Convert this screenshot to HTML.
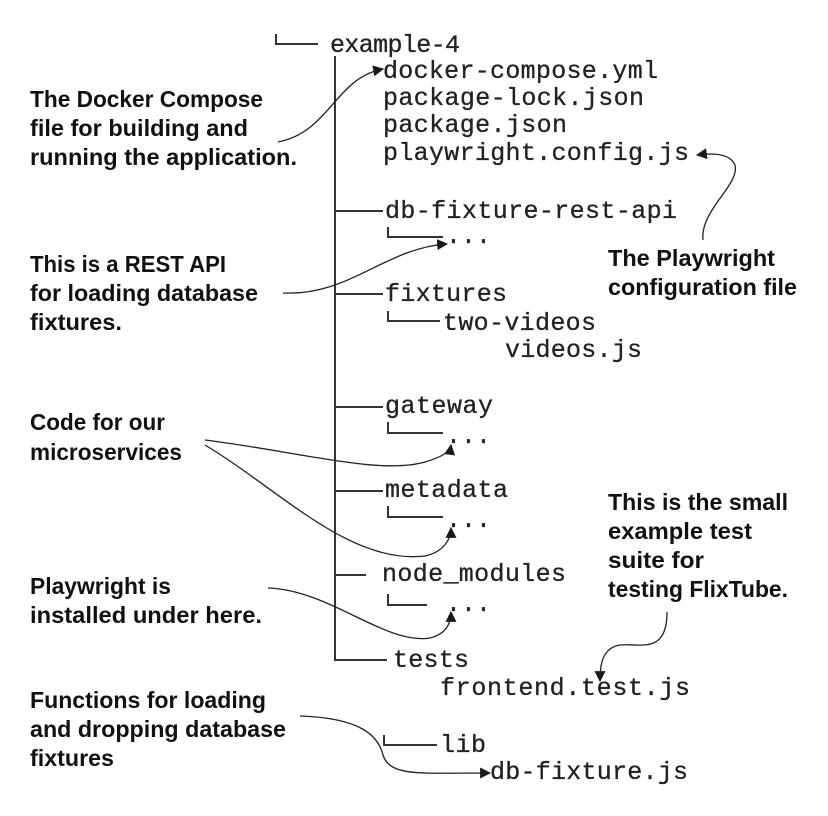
<!DOCTYPE html>
<html><head><meta charset="utf-8"><style>
html,body{margin:0;padding:0;background:#fff;width:828px;height:816px;overflow:hidden}
svg{display:block}
.m{font-family:"Liberation Mono",monospace;font-size:25px;fill:#222;stroke:#222;stroke-width:0.3}
.b{font-family:"Liberation Sans",sans-serif;font-weight:bold;font-size:23px;fill:#111}
</style></head><body>
<svg width="828" height="816" viewBox="0 0 828 816" xmlns="http://www.w3.org/2000/svg">
<defs><marker id="a" viewBox="0 0 10 10" refX="9" refY="5" markerWidth="11" markerHeight="11" markerUnits="userSpaceOnUse" orient="auto"><path d="M0,0 L10,5 L0,10 z" fill="#1a1a1a"/></marker></defs>
<g stroke="#333" stroke-width="2" fill="none">
<path d="M276,34 V44 H318"/>
<path d="M335,56 V660 H387"/>
<path d="M335,211 H383 M335,294 H383 M335,407 H383 M335,491 H383 M335,575 H366"/>
<path d="M388,227 V237 H443"/>
<path d="M388,311 V321 H440"/>
<path d="M388,422 V433 H443"/>
<path d="M388,506 V517 H443"/>
<path d="M388,594 V605 H427"/>
<path d="M384,735 V745 H437"/>
</g>
<g class="m">
<text x="330" y="52" textLength="130">example-4</text>
<text x="383" y="78" textLength="275">docker-compose.yml</text>
<text x="383" y="105" textLength="261">package-lock.json</text>
<text x="383" y="132" textLength="184">package.json</text>
<text x="383" y="160" textLength="306">playwright.config.js</text>
<text x="385" y="218" textLength="292">db-fixture-rest-api</text>
<text x="446" y="243">...</text>
<text x="385" y="301" textLength="122">fixtures</text>
<text x="443" y="330" textLength="153">two-videos</text>
<text x="505" y="357" textLength="137">videos.js</text>
<text x="385" y="413" textLength="108">gateway</text>
<text x="446" y="443">...</text>
<text x="385" y="497" textLength="123">metadata</text>
<text x="446" y="527">...</text>
<text x="382" y="581" textLength="184">node_modules</text>
<text x="446" y="611">...</text>
<text x="393" y="667" textLength="76">tests</text>
<text x="440" y="695" textLength="250">frontend.test.js</text>
<text x="440" y="752" textLength="46">lib</text>
<text x="490" y="779" textLength="198">db-fixture.js</text>
</g>
<g class="b">
<text x="30" y="107" textLength="233" lengthAdjust="spacingAndGlyphs">The Docker Compose</text>
<text x="30" y="136" textLength="218" lengthAdjust="spacingAndGlyphs">file for building and</text>
<text x="30" y="165" textLength="267" lengthAdjust="spacingAndGlyphs">running the application.</text>
<text x="30" y="272" textLength="196" lengthAdjust="spacingAndGlyphs">This is a REST API</text>
<text x="30" y="301" textLength="228" lengthAdjust="spacingAndGlyphs">for loading database</text>
<text x="30" y="330" textLength="92" lengthAdjust="spacingAndGlyphs">fixtures.</text>
<text x="608" y="266" textLength="167" lengthAdjust="spacingAndGlyphs">The Playwright</text>
<text x="608" y="295" textLength="189" lengthAdjust="spacingAndGlyphs">configuration file</text>
<text x="30" y="430" textLength="135" lengthAdjust="spacingAndGlyphs">Code for our</text>
<text x="30" y="460" textLength="152" lengthAdjust="spacingAndGlyphs">microservices</text>
<text x="608" y="510" textLength="180" lengthAdjust="spacingAndGlyphs">This is the small</text>
<text x="608" y="539" textLength="144" lengthAdjust="spacingAndGlyphs">example test</text>
<text x="608" y="568" textLength="96" lengthAdjust="spacingAndGlyphs">suite for</text>
<text x="608" y="597" textLength="180" lengthAdjust="spacingAndGlyphs">testing FlixTube.</text>
<text x="30" y="594" textLength="141" lengthAdjust="spacingAndGlyphs">Playwright is</text>
<text x="30" y="623" textLength="232" lengthAdjust="spacingAndGlyphs">installed under here.</text>
<text x="30" y="708" textLength="236" lengthAdjust="spacingAndGlyphs">Functions for loading</text>
<text x="30" y="737" textLength="256" lengthAdjust="spacingAndGlyphs">and dropping database</text>
<text x="30" y="766" textLength="84" lengthAdjust="spacingAndGlyphs">fixtures</text>
</g>
<g stroke="#222" stroke-width="1.3" fill="none" marker-end="url(#a)">
<path d="M278,142 C330,132 335,78 383,69"/>
<path d="M283,293 C350,296 385,248 447,244"/>
<path d="M703,240 C700,210 740,185 735,165 C730,153 712,153 697,155"/>
<path d="M205,440 C300,452 380,475 425,462 C442,457 450,452 451,445"/>
<path d="M205,445 C280,490 350,565 425,556 C443,552 451,540 451,528"/>
<path d="M268,588 C330,590 385,645 430,638 C446,634 451,624 451,612"/>
<path d="M667,612 C667,655 640,643 620,645 C602,648 600,665 600,681"/>
<path d="M300,716 C360,718 378,735 383,755 C390,777 420,773 490,773"/>
</g>
</svg>
</body></html>
